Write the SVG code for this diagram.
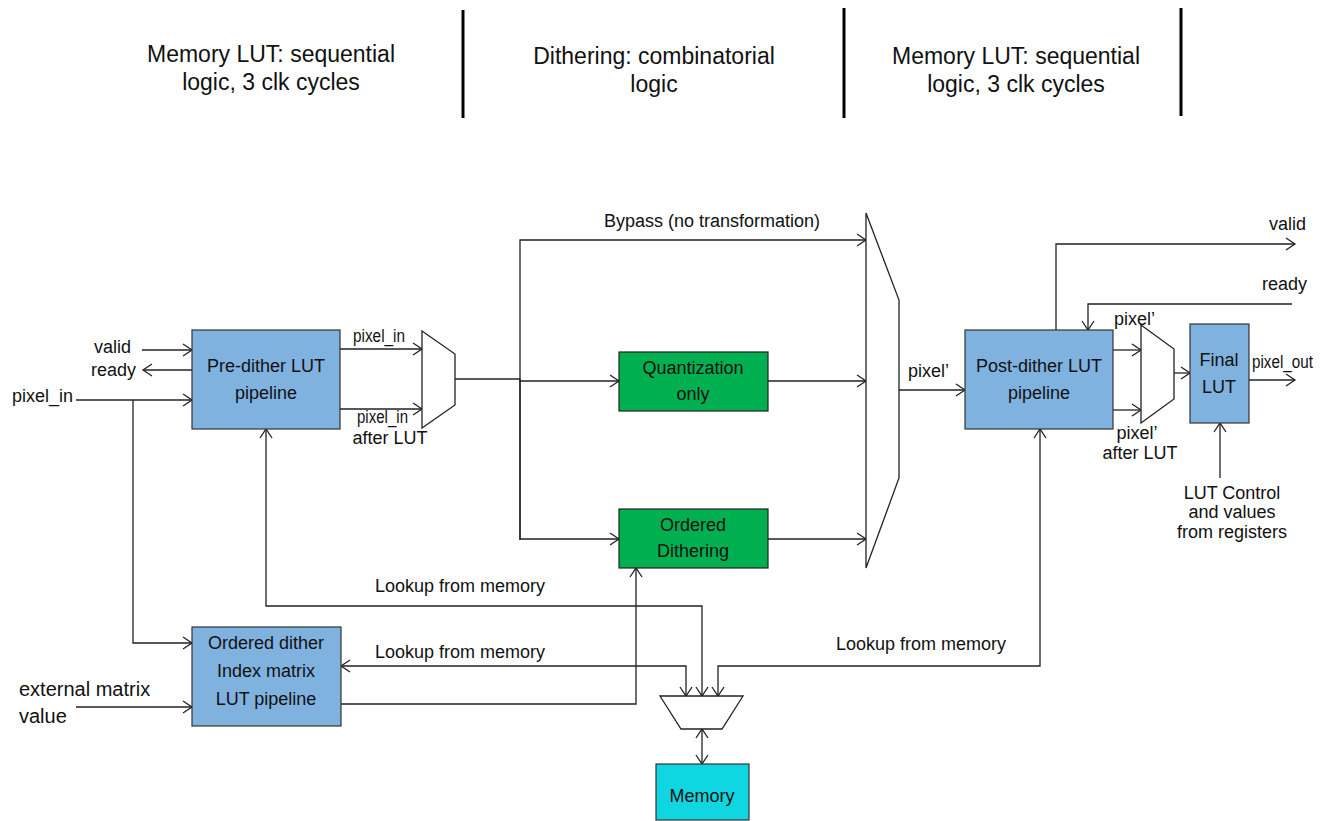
<svg xmlns="http://www.w3.org/2000/svg" width="1322" height="821" viewBox="0 0 1322 821">
<style>
text{font-family:"Liberation Sans",Arial,sans-serif;font-size:18px;fill:#111}
.big{font-size:23px}
.med{font-size:20px}
.c{text-anchor:middle}
.r{text-anchor:end}
.blue{fill:#80b2e0;stroke:#333;stroke-width:1.2}
.green{fill:#00b050;stroke:#222;stroke-width:1.2}
.cyan{fill:#0fd6e0;stroke:#333;stroke-width:1.2}
.mux{fill:#fff;stroke:#222;stroke-width:1.3}
.w{fill:none;stroke:#222;stroke-width:1.3}
.a{marker-end:url(#arr)}
.s{marker-start:url(#arr)}
.bar{stroke:#000;stroke-width:3}
</style>
<defs>
<marker id="arr" markerUnits="userSpaceOnUse" markerWidth="12" markerHeight="14" refX="10" refY="7" orient="auto-start-reverse">
<path d="M1,1 L10,7 L1,13" fill="none" stroke="#222" stroke-width="1.3"/>
</marker>
</defs>
<rect width="1322" height="821" fill="#fff"/>

<g id="header">
<line class="bar" x1="463" y1="10" x2="463" y2="118"/>
<line class="bar" x1="844" y1="8" x2="844" y2="118"/>
<line class="bar" x1="1181" y1="8" x2="1181" y2="116"/>
<text class="big c" x="271" y="62">Memory LUT: sequential</text>
<text class="big c" x="271" y="90">logic, 3 clk cycles</text>
<text class="big c" x="654" y="64">Dithering: combinatorial</text>
<text class="big c" x="654" y="92">logic</text>
<text class="big c" x="1016" y="64">Memory LUT: sequential</text>
<text class="big c" x="1016" y="92">logic, 3 clk cycles</text>
</g>

<g id="connectors">
<line class="w a" x1="142" y1="350" x2="192" y2="350"/>
<line class="w a" x1="192" y1="370" x2="143" y2="370"/>
<line class="w a" x1="76" y1="400" x2="192" y2="400"/>
<polyline class="w a" points="133,400 133,643 192,643"/>
<line class="w a" x1="76" y1="707" x2="192" y2="707"/>
<line class="w a" x1="340" y1="349" x2="422" y2="349"/>
<line class="w a" x1="340" y1="409" x2="422" y2="409"/>
<line class="w" x1="455" y1="379" x2="520" y2="379"/>
<line class="w a" x1="520" y1="381" x2="619" y2="381"/>
<polyline class="w" points="520,379 520,381"/>
<polyline class="w a" points="520,540 520,240 866,240"/>
<polyline class="w a" points="520,379 520,539 619,539"/>
<line class="w a" x1="768" y1="381" x2="866" y2="381"/>
<line class="w a" x1="768" y1="539" x2="866" y2="539"/>
<line class="w a" x1="899" y1="390" x2="965" y2="390"/>
<polyline class="w a" points="1056,330 1056,244 1295,244"/>
<polyline class="w a" points="1292,304 1088,304 1088,330"/>
<line class="w a" x1="1113" y1="350" x2="1141" y2="350"/>
<line class="w a" x1="1113" y1="410" x2="1141" y2="410"/>
<line class="w a" x1="1174" y1="373" x2="1190" y2="373"/>
<line class="w a" x1="1249" y1="380" x2="1295" y2="380"/>
<line class="w a" x1="1220" y1="478" x2="1220" y2="423"/>
<polyline class="w s a" points="266,429 266,606 702,606 702,696"/>
<polyline class="w s a" points="341,666 686,666 686,696"/>
<polyline class="w s a" points="1040,429 1040,666 718,666 718,696"/>
<polyline class="w a" points="341,704 636,704 636,568"/>
<line class="w s a" x1="702" y1="729" x2="702" y2="764"/>
</g>

<g id="pre-dither">
<rect class="blue" x="192" y="330" width="148" height="99"/>
<text class="c" x="266" y="372">Pre-dither LUT</text>
<text class="c" x="266" y="399">pipeline</text>
</g>
<g id="labels-left">
<text class="r" x="131" y="353">valid</text>
<text class="r" x="136" y="376">ready</text>
<text x="12" y="402">pixel_in</text>
<text class="med" x="19" y="696">external matrix</text>
<text class="med" x="19" y="723">value</text>
<text x="353" y="342" textLength="52" lengthAdjust="spacingAndGlyphs">pixel_in</text>
<text x="357" y="423" textLength="51" lengthAdjust="spacingAndGlyphs">pixel_in</text>
<text class="c" x="390" y="444">after LUT</text>
</g>
<g id="mux1">
<polygon class="mux" points="422,331 455,354 455,405 422,428"/>
</g>
<g id="bypass-label">
<text class="c" x="712" y="227">Bypass (no transformation)</text>
</g>
<g id="quantization">
<rect class="green" x="619" y="352" width="149" height="59"/>
<text class="c" x="693" y="374">Quantization</text>
<text class="c" x="693" y="400">only</text>
</g>
<g id="ordered-dithering">
<rect class="green" x="619" y="509" width="149" height="59"/>
<text class="c" x="693" y="531">Ordered</text>
<text class="c" x="693" y="557">Dithering</text>
</g>
<g id="mux2">
<polygon class="mux" points="866,213 899,300 899,478 866,568"/>
<text x="908" y="377">pixel’</text>
</g>
<g id="post-dither">
<rect class="blue" x="965" y="330" width="148" height="99"/>
<text class="c" x="1039" y="372">Post-dither LUT</text>
<text class="c" x="1039" y="399">pipeline</text>
</g>
<g id="mux3">
<polygon class="mux" points="1141,325 1174,349 1174,399 1141,423"/>
<text x="1114" y="325">pixel’</text>
<text class="c" x="1137" y="439">pixel’</text>
<text class="c" x="1140" y="459">after LUT</text>
</g>
<g id="final-lut">
<rect class="blue" x="1190" y="324" width="59" height="99"/>
<text class="c" x="1219" y="366">Final</text>
<text class="c" x="1219" y="393">LUT</text>
<text x="1252" y="368" textLength="61" lengthAdjust="spacingAndGlyphs">pixel_out</text>
</g>
<g id="right-labels">
<text x="1269" y="230">valid</text>
<text x="1262" y="290">ready</text>
<text class="c" x="1232" y="499">LUT Control</text>
<text class="c" x="1232" y="518">and values</text>
<text class="c" x="1232" y="538">from registers</text>
</g>
<g id="ordered-index">
<rect class="blue" x="192" y="627" width="149" height="99"/>
<text class="c" x="266" y="649">Ordered dither</text>
<text class="c" x="266" y="677">Index matrix</text>
<text class="c" x="266" y="705">LUT pipeline</text>
</g>
<g id="lookup-labels">
<text x="375" y="592">Lookup from memory</text>
<text x="375" y="658">Lookup from memory</text>
<text x="836" y="650">Lookup from memory</text>
</g>
<g id="mem-mux">
<polygon class="mux" points="660,696 743,696 722,729 681,729"/>
</g>
<g id="memory">
<rect class="cyan" x="656" y="764" width="93" height="56"/>
<text class="c" x="702" y="802">Memory</text>
</g>
</svg>
